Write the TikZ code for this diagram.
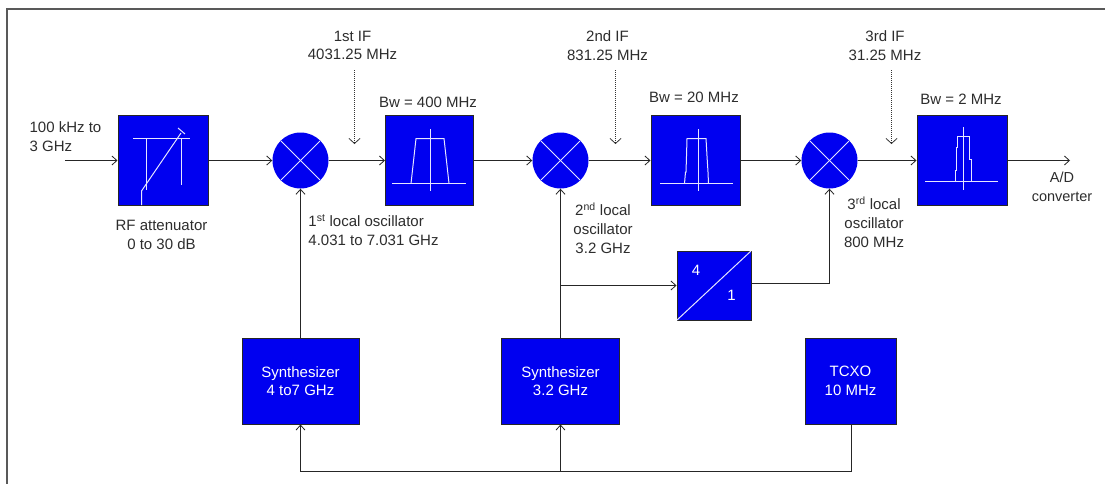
\documentclass[tikz,border=0pt]{standalone}
\usepackage{fontspec}
\setmainfont{Liberation Sans}
\usetikzlibrary{arrows.meta}
\definecolor{bb}{RGB}{0,0,240}
\definecolor{tx}{RGB}{45,45,45}
\definecolor{ln}{RGB}{230,230,255}
\tikzset{
  x=1pt,y=-1pt,
  blk/.style={draw=black!85,line width=1pt,fill=bb,minimum width=#1,inner sep=0pt,text=white,align=center,font=\fontsize{15}{18.5}\selectfont},
  mix/.style={circle,fill=bb,minimum size=56pt,inner sep=0pt},
  lbl/.style={text=tx,align=center,inner sep=0pt,font=\fontsize{15}{18.8}\selectfont},
  sig/.style={draw=black!85,line width=1pt,-{Straight Barb[length=5pt,width=9pt,line width=0.8pt]}},
  plain/.style={draw=black!85,line width=1pt},
  dotarrow/.style={draw=black!80,line width=1pt,densely dotted,-{Straight Barb[length=5pt,width=11pt,line width=0.8pt]}},
  wl/.style={draw=ln,line width=1pt},
  frm/.style={draw=black!65,line width=1.5pt},
}
\begin{document}
\begin{tikzpicture}
\useasboundingbox (0,0) rectangle (1105,483);
\path[fill=white] (0,0) rectangle (1105,483);
\draw[frm] (7,500) -- (7,9) -- (1120,9);

% blocks
\node[blk=90pt,minimum height=90pt] (att) at (163,160.5) {};
\node[mix] (m1) at (300.5,160.5) {};
\node[blk=88pt,minimum height=90pt] (f1) at (429.5,160.5) {};
\node[mix] (m2) at (560.5,160.5) {};
\node[blk=89pt,minimum height=90pt] (f2) at (695.5,160.5) {};
\node[mix] (m3) at (829.5,160.5) {};
\node[blk=90pt,minimum height=90pt] (f3) at (962,160.5) {};
\node[blk=74pt,minimum height=69pt] (div) at (714,285.5) {};
\node[blk=117pt,minimum height=86pt] (s1) at (300.5,381) {Synthesizer\\4 to7 GHz};
\node[blk=118pt,minimum height=86pt] (s2) at (560.5,381) {Synthesizer\\3.2 GHz};
\node[blk=91pt,minimum height=86pt] (tc) at (850.5,381) {TCXO\\10 MHz};

% free ends and junctions
\coordinate (in) at (65,160.5);
\coordinate (out) at (1070,160.5);
\coordinate (bus1) at (300.5,471.5);
\coordinate (bus2) at (560.5,471.5);
\coordinate (bus3) at (851.5,471.5);
\coordinate (jn) at (560.5,285.5);
\coordinate (d1a) at (354.5,70);
\coordinate (d1b) at (354.5,144);
\coordinate (d2a) at (615.5,70);
\coordinate (d2b) at (615.5,144);
\coordinate (d3a) at (891.5,70);
\coordinate (d3b) at (891.5,144);

% connectors
\draw[sig] (in) -- (att.west);
\draw[sig] (att.east) -- (m1.west);
\draw[sig] (m1.east) -- (f1.west);
\draw[sig] (f1.east) -- (m2.west);
\draw[sig] (m2.east) -- (f2.west);
\draw[sig] (f2.east) -- (m3.west);
\draw[sig] (m3.east) -- (f3.west);
\draw[sig] (f3.east) -- (out);
\draw[sig] (s1.north) -- (m1.south);
\draw[sig] (s2.north) -- (m2.south);
\draw[sig] (jn) -- (div.west);
\draw[sig] ([yshift=2pt]div.east) -| (m3.south);
\draw[plain] (tc.south -| bus3) -- (bus3) -- (bus1);
\draw[sig] (bus1) -- (bus1 |- s1.south);
\draw[sig] (bus2) -- (bus2 |- s2.south);
\draw[dotarrow] (d1a) -- (d1b);
\draw[dotarrow] (d2a) -- (d2b);
\draw[dotarrow] (d3a) -- (d3b);

% mixer crosses
\foreach \m/\cx in {m1/300.5,m2/560.5,m3/829.5}{
  \draw[wl] (\cx-19.5,160.5-19.5) -- (\cx+19.5,160.5+19.5);
  \draw[wl] (\cx+19.5,160.5-19.5) -- (\cx-19.5,160.5+19.5);
}
% attenuator symbol
\draw[wl] (133,138.5) -- (190,138.5);
\draw[wl] (146.5,138.5) -- (146.5,190);
\draw[wl] (181.5,138.5) -- (181.5,185);
\draw[wl] (141.5,205) -- (141.5,191) -- (181,133);
\draw[wl] (178,128) -- (185,134);
% filter 1
\draw[wl] (392,183.5) -- (466,183.5);
\draw[wl] (430.5,129) -- (430.5,191);
\draw[wl] (411,183.5) -- (416,138.5) -- (444,138.5) -- (449,183.5);
% filter 2
\draw[wl] (660,183.5) -- (733,183.5);
\draw[wl] (698.5,129) -- (698.5,191);
\draw[wl] (684.5,183.5) -- (685.5,172) -- (686,172) -- (686.5,156) -- (687,138.5) -- (706,138.5) -- (707,156) -- (708,172) -- (708.5,183.5);
% filter 3
\draw[wl] (925,181.5) -- (998,181.5);
\draw[wl] (963.5,127) -- (963.5,190);
\draw[wl] (955.5,181.5) -- (955.5,170.5) -- (956.5,170.5) -- (956.5,147.5) -- (957.5,147.5) -- (957.5,136.5) -- (969.5,136.5) -- (969.5,159.5) -- (971.5,159.5) -- (971.5,181.5);
% divider
\draw[wl] (677,320) -- (751,251);
\node[lbl,text=white] (dn4) at (696,270) {4};
\node[lbl,text=white] (dn1) at (731.5,295) {1};

% labels
\node[lbl] (t1) at (352.5,45.5) {1st IF\\4031.25 MHz};
\node[lbl] (t2) at (607.5,45.5) {2nd IF\\831.25 MHz};
\node[lbl] (t3) at (885,45.5) {3rd IF\\31.25 MHz};
\node[lbl] (b1) at (428,102) {Bw = 400 MHz};
\node[lbl] (b2) at (694,97) {Bw = 20 MHz};
\node[lbl] (b3) at (961,99) {Bw = 2 MHz};
\node[lbl,align=left] (inl) at (65.5,137) {100 kHz to\\3 GHz};
\node[lbl] (rf) at (161.5,235) {RF attenuator\\0 to 30 dB};
\node[lbl,align=left] (lo1) at (373.5,230) {1\textsuperscript{st} local oscillator\\4.031 to 7.031 GHz};
\node[lbl] (lo2) at (603,228) {2\textsuperscript{nd} local\\oscillator\\3.2 GHz};
\node[lbl] (lo3) at (874,222) {3\textsuperscript{rd} local\\oscillator\\800 MHz};
\node[lbl,font=\fontsize{14.5}{19}\selectfont] (ad) at (1062,187) {A/D\\converter};
\end{tikzpicture}
\end{document}
